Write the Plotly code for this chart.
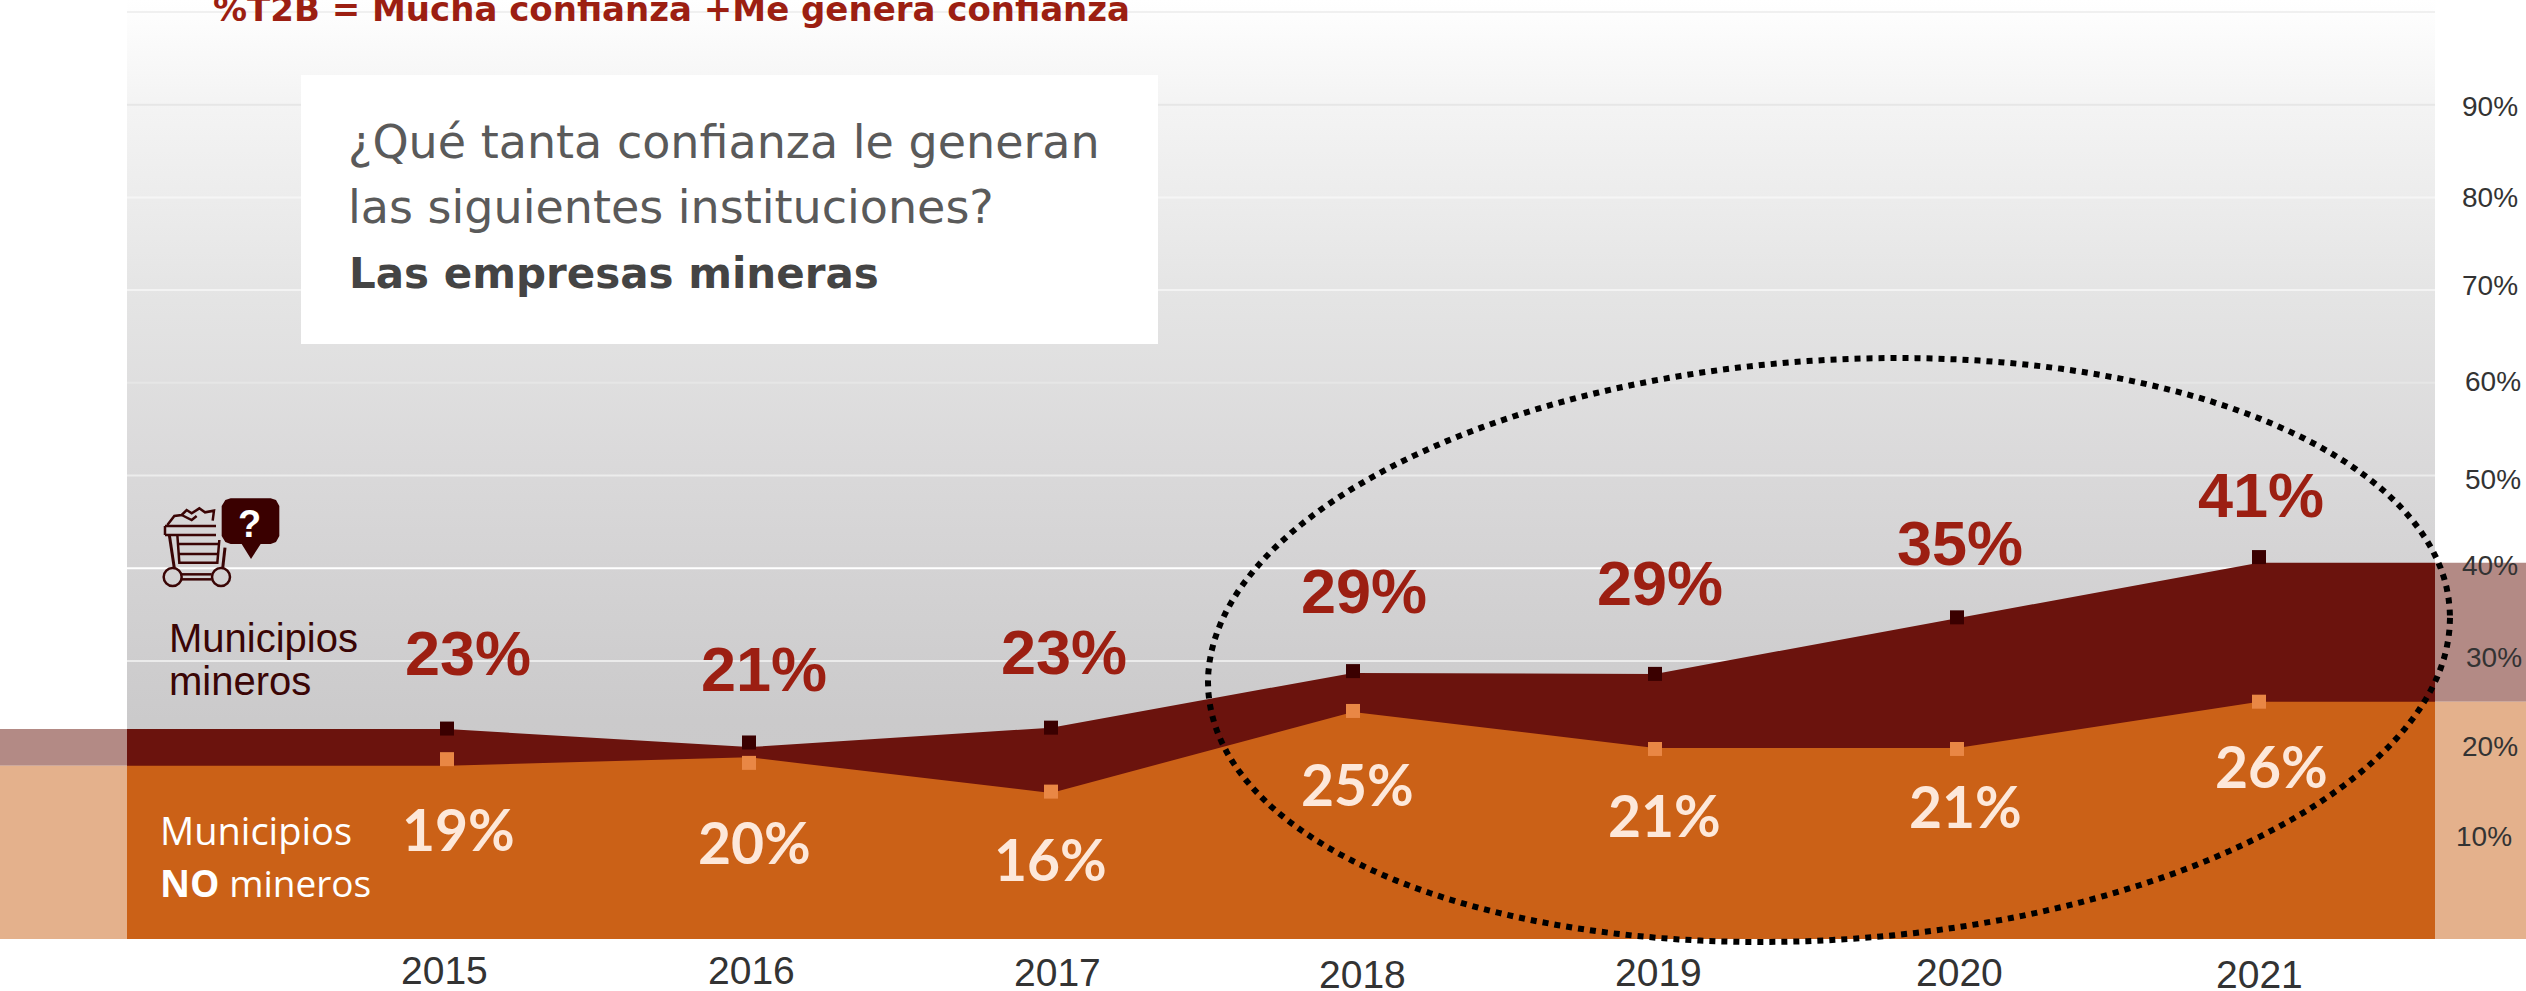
import numpy as np
import plotly.graph_objects as go

# ---- data ----
years = [2015, 2016, 2017, 2018, 2019, 2020, 2021]
mineros_area = [22.65, 20.7, 22.8, 28.7, 28.6, 34.6, 40.6]
no_mineros_area = [18.7, 19.6, 15.75, 24.5, 20.6, 20.6, 25.6]
mineros_marker = [22.7, 21.2, 22.8, 28.9, 28.6, 34.7, 41.2]
no_mineros_marker = [19.4, 19.0, 15.9, 24.6, 20.5, 20.5, 25.6]
mineros_labels = ["23%", "21%", "23%", "29%", "29%", "35%", "41%"]
no_mineros_labels = ["19%", "20%", "16%", "25%", "21%", "21%", "26%"]
y_ticks = [10, 20, 30, 40, 50, 60, 70, 80, 90]
y_tick_labels = ["10%", "20%", "30%", "40%", "50%", "60%", "70%", "80%", "90%"]
grid_values = [30, 40, 50, 60, 70, 80, 90, 100]

# ---- layout constants (pixels) ----
W, H = 2526, 991
L, R, BASE = 127, 2435, 939
PPY = 302.0          # px per year
PPV = 9.27           # px per percent
X0 = 2015 - (447 - L) / PPY
X1 = 2015 + (R - 447) / PPY
YMAX = BASE / PPV

DARK, ORANGE = "#6b130d", "#cb6117"
DARK_BAND, ORANGE_BAND = "#b38a85", "#e4b18c"
MARK_D, MARK_O = "#3a0000", "#e98745"
RED, CREAM, INK = "#9c1f12", "#fde8da", "#3a0505"
ARIAL = "Liberation Sans"


def px(v):
    return (v - L) / (R - L)


def py(v):
    return (BASE - v) / BASE


fig = go.Figure()

# background gradient
fig.add_trace(go.Scatter(
    x=[X0, X1, X1, X0, X0], y=[0, 0, YMAX, YMAX, 0], mode="none", fill="toself",
    fillgradient=dict(type="vertical", start=0, stop=YMAX, colorscale=[
        [0, "#c8c7c8"], [0.233, "#cbcacb"], [0.489, "#d9d8d9"],
        [0.68, "#e4e4e4"], [0.894, "#f4f4f4"], [1, "#ffffff"]]),
    hoverinfo="skip", showlegend=False))

# gridlines
grid_colors = ["#ebebeb", "#ffffff", "#ececec", "#e6e6e6", "#f3f3f3", "#f5f5f5", "#e6e6e6", "#f0f0f0"]
for g, c in zip(grid_values, grid_colors):
    fig.add_trace(go.Scatter(x=[X0, X1], y=[g, g], mode="lines", line=dict(color=c, width=2),
                             hoverinfo="skip", showlegend=False))

# areas
xs = [X0] + years + [X1]
fig.add_trace(go.Scatter(x=xs, y=[mineros_area[0]] + mineros_area + [mineros_area[-1]], mode="lines",
                         line=dict(width=0, color=DARK), fill="tozeroy", fillcolor=DARK,
                         name="Municipios mineros", showlegend=False))
fig.add_trace(go.Scatter(x=xs, y=[no_mineros_area[0]] + no_mineros_area + [no_mineros_area[-1]], mode="lines",
                         line=dict(width=0, color=ORANGE), fill="tozeroy", fillcolor=ORANGE,
                         name="Municipios NO mineros", showlegend=False))
# markers
fig.add_trace(go.Scatter(x=years, y=mineros_marker, mode="markers", showlegend=False,
                         marker=dict(symbol="square", size=14, color=MARK_D, line=dict(width=0))))
fig.add_trace(go.Scatter(x=years, y=no_mineros_marker, mode="markers", showlegend=False,
                         marker=dict(symbol="square", size=14, color=MARK_O, line=dict(width=0))))

shapes = []
# translucent side bands beyond the plot area
for a, b in [(-L / (R - L), 0), (1, (W - L) / (R - L))]:
    i = 0 if a < 0 else -1
    shapes.append(dict(type="rect", xref="paper", yref="y", x0=a, x1=b, y0=no_mineros_area[i], y1=mineros_area[i],
                       fillcolor=DARK_BAND, line_width=0, layer="above"))
    shapes.append(dict(type="rect", xref="paper", yref="y", x0=a, x1=b, y0=0, y1=no_mineros_area[i],
                       fillcolor=ORANGE_BAND, line_width=0, layer="above"))
# white question box
shapes.append(dict(type="rect", xref="paper", yref="paper", x0=px(301), x1=px(1158), y0=py(344), y1=py(75),
                   fillcolor="white", line_width=0, layer="above"))

# tilted dotted ellipse
cx, cy, ex, ey, cov = 1829, 650, 621, 292, 20000
t = np.linspace(0, 2 * np.pi, 181)
ex_pts = cx + ex * np.cos(t)
ey_pts = cy - (cov / ex) * np.cos(t) + np.sqrt(ey ** 2 - (cov / ex) ** 2) * np.sin(t)
path = "M " + " L ".join(f"{px(a):.5f},{py(b):.5f}" for a, b in zip(ex_pts, ey_pts)) + " Z"
shapes.append(dict(type="path", xref="paper", yref="paper", path=path,
                   line=dict(color="black", width=6, dash="dot"), layer="above"))


# icon (cart and speech bubble), pixel coordinates from the zoomed reference
def ix(v):
    return px(140 + v / 3)


def iy(v):
    return py(480 + v / 3)


def poly(points, fill=None, width=2.5, close=False):
    p = "M " + " L ".join(f"{ix(a):.5f},{iy(b):.5f}" for a, b in points) + (" Z" if close else "")
    d = dict(type="path", xref="paper", yref="paper", path=p, layer="above",
             line=dict(color=INK if fill is None else fill, width=0 if fill else width))
    if fill:
        d["fillcolor"] = fill
    return d


BUB = MARK_D
shapes.append(poly([(272, 55), (392, 55), (408, 60), (418, 78), (418, 168), (408, 186), (392, 192), (362, 192),
                    (333, 237), (305, 192), (272, 192), (256, 186), (245, 168), (245, 78), (256, 60)], fill=BUB, close=True))
shapes.append(poly([(75, 138), (228, 138)]))
shapes.append(poly([(75, 165), (228, 165)]))
shapes.append(poly([(75, 138), (75, 165)]))
shapes.append(poly([(88, 165), (103, 265)], width=3))
shapes.append(poly([(112, 165), (118, 248), (232, 248), (238, 180)]))
shapes.append(poly([(255, 203), (248, 265)], width=3))
shapes.append(poly([(112, 192), (236, 192)]))
shapes.append(poly([(114, 222), (234, 222)]))
shapes.append(poly([(125, 283), (215, 283)]))
shapes.append(poly([(125, 298), (215, 298)]))
shapes.append(poly([(82, 135), (103, 108), (125, 105), (140, 90), (155, 100), (178, 85), (195, 97), (222, 92), (218, 122)]))
shapes.append(poly([(125, 105), (155, 120), (170, 108)]))
for c in (98, 243):
    shapes.append(dict(type="circle", xref="paper", yref="paper", x0=ix(c - 27), x1=ix(c + 27), y0=iy(318), y1=iy(264),
                       line=dict(color=INK, width=2.5), layer="above"))

ann = []


def page_text(x, y, text, size, color, family=ARIAL, anchor="left", weight=None):
    font = dict(size=size, color=color, family=family)
    if weight:
        font["weight"] = weight
    ann.append(dict(xref="paper", yref="paper", x=px(x), y=py(y), text=text, showarrow=False, font=font,
                    xanchor=anchor, yanchor="middle", borderpad=0))


# data labels: anchored to the series points with hand offsets as in the original
d_off = [(22, -76), (16, -78), (14, -76), (12, -82), (6, -91), (4, -75), (3, -68)]
o_off = [(11, 63), (5, 85), (-1, 66), (4, 72), (9, 67), (8, 58), (12, 64)]
for i, yr in enumerate(years):
    ann.append(dict(x=yr, y=mineros_area[i], text=mineros_labels[i], showarrow=False, xanchor="center", yanchor="middle",
                    xshift=d_off[i][0] - 1, yshift=-d_off[i][1],
                    font=dict(family=ARIAL, size=63, color=RED, weight="bold")))
    ann.append(dict(x=yr, y=no_mineros_area[i], text=no_mineros_labels[i], showarrow=False, xanchor="center", yanchor="middle",
                    xshift=o_off[i][0], yshift=-o_off[i][1],
                    font=dict(family="Lato", size=57, color=CREAM, weight="bold")))

# year labels (slightly wandering in the original)
yr_off = [(-3, 31), (2, 31), (6, 33), (9, 35), (3, 33), (2, 33), (0, 35)]
for yr, (dx, dy) in zip(years, yr_off):
    ann.append(dict(x=yr, y=0, text=str(yr), showarrow=False, xanchor="center", yanchor="middle",
                    xshift=dx, yshift=-dy, font=dict(family=ARIAL, size=39, color="#333333")))

# y tick labels
tick_x = [2484, 2490, 2494, 2490, 2493, 2493, 2490, 2490, 2490]
tick_dy = [-10, -7, -3, -3, 4, -1, -5, 0, 2]
for v, s, tx, dy in zip(y_ticks, y_tick_labels, tick_x, tick_dy):
    ann.append(dict(xref="paper", yref="y", x=px(tx), y=v, text=s, showarrow=False, xanchor="center", yanchor="middle",
                    yshift=-dy, font=dict(family=ARIAL, size=28, color="#333333")))

# texts
page_text(212, 9, "%T2B = Mucha confianza +Me genera confianza", 34, RED, family="DejaVu Sans", weight="bold")
page_text(347, 142, "¿Qué tanta confianza le generan", 46, "#5a5a5a", family="DejaVu Sans")
page_text(347, 207, "las siguientes instituciones?", 46, "#5a5a5a", family="DejaVu Sans")
page_text(348, 273, "Las empresas mineras", 42, "#444444", family="DejaVu Sans", weight="bold")
page_text(168, 638, "Municipios", 40, INK)
page_text(168, 681, "mineros", 40, INK)
page_text(159, 830, "Municipios", 38, "white", family="Open Sans")
page_text(159, 882, "<b>NO</b> mineros", 37, "white", family="Open Sans")
page_text(249.5, 524, "?", 38, "white", anchor="center", weight="bold")

fig.update_layout(
    width=W, height=H, margin=dict(l=L, r=W - R, t=0, b=H - BASE, pad=0),
    paper_bgcolor="white", plot_bgcolor="rgba(0,0,0,0)", showlegend=False,
    xaxis=dict(range=[X0, X1], showgrid=False, zeroline=False, showticklabels=False, ticks="", showline=False,
               tickvals=years),
    yaxis=dict(range=[0, YMAX], showgrid=False, zeroline=False, showticklabels=False, ticks="", showline=False,
               tickvals=y_ticks, side="right"),
    shapes=shapes, annotations=ann,
)

fig.write_html("out.html", config=dict(displayModeBar=False),
               post_script="document.body.style.margin='0';document.documentElement.style.overflow='hidden';")
